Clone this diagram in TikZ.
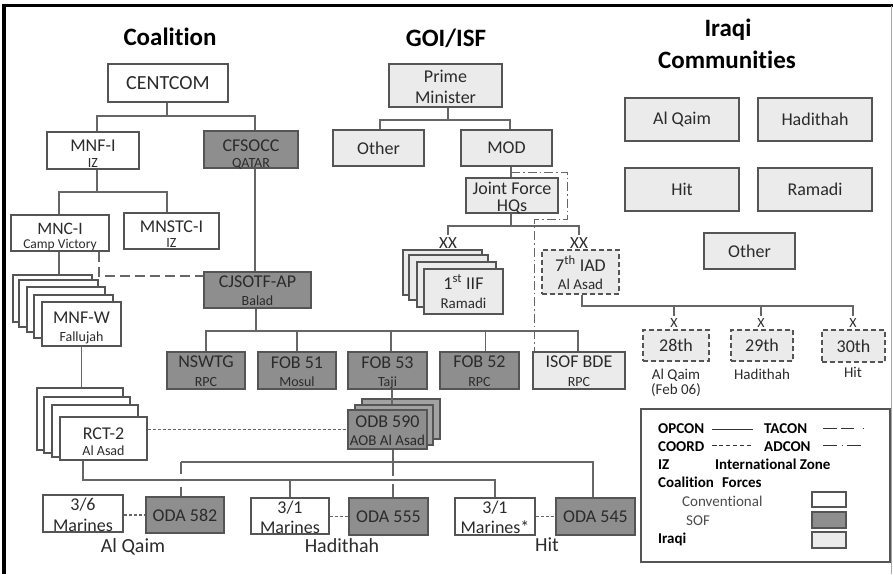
\documentclass[tikz,border=0pt]{standalone}
\usepackage{fontspec}
\setmainfont{Carlito}[Ligatures=NoCommon]
\definecolor{bdc}{HTML}{555555}
\definecolor{lnc}{HTML}{666666}
\definecolor{sofc}{HTML}{8E8E8E}
\definecolor{sofb}{HTML}{A2A2A2}
\definecolor{irqc}{HTML}{EBEBEB}
\definecolor{txc}{HTML}{2B2B2B}
\newcommand\Lg{\fontsize{18}{20}\selectfont}
\newcommand\Sm{\fontsize{14}{16}\selectfont}
\newcommand\Md{\fontsize{15}{17}\selectfont}
\newcommand\twoL[3]{\vbox{\baselineskip=#1pt\lineskiplimit=-50pt\lineskip=0pt\halign{\hfil##\hfil\cr#2\cr#3\cr}}}
\tikzset{
  bx/.style={draw=bdc, line width=1.25pt, inner sep=0pt, text=txc, font=\Lg},
  conv/.style={bx, fill=white},
  sof/.style={bx, fill=sofc},
  irq/.style={bx, fill=irqc},
  irqd/.style={irq, dash pattern=on 5pt off 3pt},
  wh/.style 2 args={minimum width=#1pt, minimum height=#2pt},
  th/.style={text height=#1pt, text depth=0pt},
  ln/.style={draw=lnc, line width=1.25pt},
  coord/.style={ln, dash pattern=on 3pt off 2pt},
  tacon/.style={ln, dash pattern=on 10pt off 5pt},
  adcon/.style={ln, dash pattern=on 9pt off 3pt on 1.5pt off 3pt},
  ttl/.style={font=\fontsize{25}{28}\selectfont\bfseries, text=black, inner sep=0pt, anchor=base},
  lbl/.style={font=\fontsize{20}{22}\selectfont, text=txc, inner sep=0pt, anchor=base},
  mlb/.style={font=\fontsize{15}{17}\selectfont, text=txc, inner sep=0pt, anchor=base},
  xxl/.style={font=\fontsize{17}{19}\selectfont, text=txc, inner sep=2pt, anchor=base},
  xl/.style={font=\fontsize{14}{16}\selectfont, text=txc, inner sep=2pt, anchor=base},
  lgb/.style={font=\fontsize{15}{17}\selectfont\bfseries, text=black, inner sep=0pt, anchor=base west},
  lgr/.style={font=\fontsize{15}{17}\selectfont, text=txc!85, inner sep=0pt, anchor=base west},
}
\begin{document}
\begin{tikzpicture}[x=1pt,y=-1pt]
\useasboundingbox (0,0) rectangle (893,574);
% frame
\coordinate (f1) at (4,574); \coordinate (f2) at (4,5.5); \coordinate (f3) at (893,5.5);
\draw[line width=3.5pt, black] (f1) -- (f2) -- (f3);
\coordinate (f4) at (891.5,5.5); \coordinate (f5) at (891.5,574);
\draw[black!35, line width=0.8pt] (f4) -- (f5);

% titles
\node[ttl] (tco) at (170,45) {Coalition};
\node[ttl] (tgo) at (446,46) {GOI/ISF};
\node[ttl] (tiq1) at (728,36) {Iraqi};
\node[ttl] (tiq2) at (727,68) {Communities};

% ---------------- Coalition
\node[conv, wh={120}{38}, font=\fontsize{20}{22}\selectfont] (cent) at (168,83) {CENTCOM};
\node[conv, wh={92}{37}, th=33] (mnfi) at (93,150.5) {\twoL{15.5}{\Lg MNF-I}{\Sm IZ}};
\node[sof, wh={94}{37}, th=35] (cfs) at (251,149.5) {\twoL{15.5}{\Lg CFSOCC}{\Sm QATAR}};
\node[conv, wh={98}{36}, th=31] (mnci) at (60,233) {\twoL{14}{\fontsize{17.5}{19}\selectfont MNC-I}{\fontsize{13.5}{15}\selectfont Camp Victory}};
\node[conv, wh={95}{36}, th=32] (mnstc) at (171.5,231) {\twoL{14.5}{\Lg MNSTC-I}{\Sm IZ}};

\node[conv, wh={79}{47}] (mnfwa) at (52.5,298.5) {};
\node[conv, wh={79}{47}] (mnfwb) at (58.5,303.5) {};
\node[conv, wh={78}{45}] (mnfwc) at (66,309.5) {};
\node[conv, wh={79}{43}] (mnfwd) at (73.5,316.5) {};
\node[conv, wh={79}{44}, th=34] (mnfw) at (81.5,324) {\twoL{18}{\Lg MNF-W}{\Sm Fallujah}};

\node[sof, wh={107}{36}, th=30] (cjs) at (257.5,290) {\twoL{18}{\Lg CJSOTF-AP}{\Sm Balad}};

\node[conv, wh={86}{62}] (rcta) at (80,419) {};
\node[conv, wh={86}{56}] (rctb) at (87,425) {};
\node[conv, wh={86}{52}] (rctc) at (95,431) {};
\node[conv, wh={87}{43}, th=33] (rct) at (103.5,438.5) {\twoL{15.5}{\Lg RCT-2}{\Sm Al Asad}};

\node[sof, wh={78}{37}, th=32] (nsw) at (206,370.5) {\twoL{19}{\Lg NSWTG}{\Sm RPC}};
\node[sof, wh={78}{37}, th=32] (fob51) at (297,370.5) {\twoL{18}{\Lg FOB 51}{\Sm Mosul}};
\node[sof, wh={79}{37}, th=32] (fob53) at (387.5,370.5) {\twoL{18}{\Lg FOB 53}{\Sm Taji}};
\node[sof, wh={79}{37}, th=32] (fob52) at (479.5,370.5) {\twoL{19}{\Lg FOB 52}{\Sm RPC}};
\node[irq, wh={92}{37}, th=31] (isof) at (579,370.5) {\twoL{19}{\Lg ISOF BDE}{\Sm RPC}};

\node[sof, fill=sofb, wh={78}{40}] (odbb) at (401,419) {};
\node[sof, fill=sofb, wh={78}{40}] (odba) at (394,425) {};
\coordinate (o1) at ([xshift=4.5pt]fob53.south);
\draw[ln] (o1) -- (o1 |- odba.north);
\node[sof, wh={79}{39}, th=31] (odb) at (387.5,429.5) {\twoL{18}{\Lg ODB 590}{\Md AOB Al Asad}};

\node[conv, wh={80}{37}, th=35] (m36) at (83,513.5) {\twoL{21}{\Lg 3/6}{\Lg Marines}};
\node[sof, wh={78}{36}] (oda582) at (185,515) {ODA 582};
\node[conv, wh={78}{36}, th=34] (m31a) at (290,516) {\twoL{20}{\Lg 3/1}{\Lg Marines}};
\node[sof, wh={79}{37}] (oda555) at (388.5,516.5) {ODA 555};
\node[conv, wh={80}{37}, th=34] (m31b) at (495,516.5) {\twoL{20}{\Lg 3/1}{\Lg Marines*}};
\node[sof, wh={79}{37}] (oda545) at (595.5,516.5) {ODA 545};

\node[lbl] (laq) at (133,552) {Al Qaim};
\node[lbl] (lha) at (342,552) {Hadithah};
\node[lbl] (lhi) at (547,551) {Hit};

% ---------------- GOI/ISF
\node[irq, wh={113}{43}, th=35] (pm) at (445.5,85.5) {\twoL{21}{\Lg Prime}{\Lg Minister}};
\node[irq, wh={91}{36}] (oth) at (378.5,148) {Other};
\node[irq, wh={91}{36}] (mod) at (506.5,148) {MOD};
\node[irq, wh={92}{35}, th=31] (jf) at (512,195.5) {\twoL{17}{\Lg Joint Force}{\Lg HQs}};

\node[irq, wh={79}{45}] (iifa) at (442.5,272.5) {};
\node[irq, wh={79}{45}] (iifb) at (448.5,277.5) {};
\node[irq, wh={79}{45}] (iifc) at (456.5,284.5) {};
\node[irq, wh={79}{45}, th=33] (iif) at (463.5,291.5) {\twoL{19}{\Lg 1\textsuperscript{st} IIF}{\Md Ramadi}};
\node[irqd, wh={77}{44}, th=34] (iad) at (580.5,272) {\twoL{18}{\Lg 7\textsuperscript{th} IAD}{\Md Al Asad}};
\node[xxl] (xx1) at (448,248) {XX};
\node[xxl] (xx2) at (579,248) {XX};

\node[xl] (x28) at (674,327) {X};
\node[xl] (x29) at (761,327) {X};
\node[xl] (x30) at (853,327) {X};
\node[irqd, wh={66}{31}] (d28) at (676,345.5) {28th};
\node[irqd, wh={62}{31}] (d29) at (762,345.5) {29th};
\node[irqd, wh={63}{32}] (d30) at (853.5,346) {30th};
\node[mlb] (l28) at (676,379) {Al Qaim};
\node[mlb] (l28b) at (676,394) {(Feb 06)};
\node[mlb] (l29) at (762,379) {Hadithah};
\node[mlb] (l30) at (853,377) {Hit};

% ---------------- Iraqi communities
\node[irq, wh={114}{43}] (caq) at (682,119.5) {Al Qaim};
\node[irq, wh={114}{43}] (cha) at (815,119.5) {Hadithah};
\node[irq, wh={114}{43}] (chi) at (682,189.5) {Hit};
\node[irq, wh={114}{43}] (cra) at (815,189.5) {Ramadi};
\node[irq, wh={91}{36}] (cot) at (749.5,251) {Other};

% ---------------- Legend
\node[draw=bdc, line width=1.25pt, fill=white, minimum width=249pt, minimum height=153pt, inner sep=0pt] (leg) at (765.5,485.5) {};
\node[lgb] (lo) at (658,433) {OPCON};
\node[lgb] (lt) at (764,433) {TACON};
\node[lgb] (lc) at (658,451) {COORD};
\node[lgb] (la) at (764,451) {ADCON};
\node[lgb] (liz) at (658,469) {IZ};
\node[lgb] (lizz) at (715,469) {International Zone};
\node[lgb] (lcf) at (658,487) {Coalition\hspace{8pt}Forces};
\node[lgr] (lcv) at (682,506) {Conventional};
\node[lgr] (lsof) at (686,525) {SOF};
\node[lgb] (liq) at (658,543) {Iraqi};
\node[conv, wh={34}{15}] (sw1) at (829,499.5) {};
\node[sof, wh={34}{16}] (sw2) at (829,520) {};
\node[irq, wh={34}{16}] (sw3) at (829,540) {};
\coordinate (lo1) at (712,429.5); \coordinate (lo2) at (753,429.5);
\draw[ln, draw=black!80] (lo1) -- (lo2);
\coordinate (lc1) at (712,445.5); \coordinate (lc2) at (753,445.5);
\draw[ln, draw=black!80, dash pattern=on 4.5pt off 2.4pt] (lc1) -- (lc2);
\coordinate (lt1) at (823,428.5); \coordinate (lt2) at (865,428.5);
\draw[ln, draw=black!80, dash pattern=on 13.5pt off 4.3pt on 13pt off 8.7pt on 1.5pt off 20pt] (lt1) -- (lt2);
\coordinate (la1) at (823,445.5); \coordinate (la2) at (862,445.5);
\draw[ln, draw=black!80, dash pattern=on 14pt off 4.5pt on 1.5pt off 4pt on 14pt off 20pt] (la1) -- (la2);

% ---------------- connectors: Coalition
\coordinate (jc) at (167,116);
\draw[ln] (jc |- cent.south) -- (jc);
\draw[ln] ([xshift=4pt]mnfi.north) |- (jc) -| ([xshift=4pt]cfs.north);
\coordinate (jm) at (97,192);
\draw[ln] (jm |- mnfi.south) -- (jm);
\draw[ln] ([xshift=-1pt]mnci.north) |- (jm) -| ([xshift=-4.5pt]mnstc.north);
\coordinate (m1) at ([xshift=-1pt]mnci.south);
\draw[ln] (m1) -- (m1 |- mnfwa.north);
\coordinate (t1) at ([xshift=39pt]mnci.south);
\coordinate (t2) at ([yshift=14pt]cjs.west);
\draw[tacon] (t1) |- (t2);
\coordinate (c1) at ([xshift=4pt]cfs.south);
\draw[ln] (c1) -- (c1 |- cjs.north);
\draw[ln] (mnfw.south) -- (mnfw.south |- rcta.north);
\coordinate (jf1) at (256,331);
\draw[ln] (jf1 |- cjs.south) -- (jf1);
\draw[ln] (nsw.north) |- (jf1) -| ([xshift=-1pt]isof.north);
\draw[ln] (fob51.north) -- (fob51.north |- jf1);
\coordinate (f53) at ([xshift=3.5pt]fob53.north);
\draw[ln] (f53) -- (f53 |- jf1);
\coordinate (f52) at ([xshift=6pt]fob52.north);
\draw[ln] (f52) -- (f52 |- jf1);
\draw[coord] (rct.east |- odb.west) -- (odb.west);
\coordinate (jr) at (83,480);
\draw[ln] (jr |- rct.south) -- (jr) -| (m31b.north);
\draw[ln] (m31a.north) -- (m31a.north |- jr);
\coordinate (js) at (393,462);
\draw[ln] (js |- odb.south) -- (js);
\coordinate (s1) at ([xshift=-4pt]oda582.north);
\draw[ln] (s1 |- js) -| ([xshift=-2.5pt]oda545.north);
\coordinate (cr1) at (s1 |- jr);
\draw[ln] (s1 |- js) -- ([yshift=6pt]cr1);
\draw[ln] ([yshift=-7pt]cr1) -- (s1);
\coordinate (s2) at ([xshift=4.5pt]oda555.north);
\coordinate (cr2) at (s2 |- jr);
\draw[ln] (js) -- ([yshift=4pt]cr2);
\draw[ln] ([yshift=-4pt]cr2) -- (s2);
\draw[coord] (m36.east |- oda582.west) -- (oda582.west);
\draw[coord] (m31a.east |- oda555.west) -- (oda555.west);
\draw[coord] (m31b.east |- oda545.west) -- (oda545.west);

% ---------------- connectors: GOI/ISF
\coordinate (jp) at (448,120);
\draw[ln] (jp |- pm.south) -- (jp);
\draw[ln] ([xshift=1.5pt]oth.north) |- (jp) -| ([xshift=3.5pt]mod.north);
\coordinate (mj) at ([xshift=4.5pt]mod.south);
\draw[ln] (mj) -- (mj |- jf.north);
\coordinate (jx) at (511,226);
\draw[ln] (jx |- jf.south) -- (jx);
\draw[ln] (xx1.north) |- (jx) -| (xx2.north);
\coordinate (a1) at ([yshift=-6pt]mj);
\coordinate (a2) at ([xshift=9pt,yshift=-6pt]jf.south east);
\coordinate (a3) at ([xshift=2pt]isof.north west);
\draw[adcon] (a1) -| (a2) -| (a3);
\coordinate (ji) at (582,306);
\coordinate (i1) at ([xshift=1.5pt]iad.south);
\draw[ln] (i1) |- (ji -| x30.north) -- (x30.north);
\draw[ln] (x28.north) -- (x28.north |- ji);
\draw[ln] (x29.north) -- (x29.north |- ji);
\end{tikzpicture}
\end{document}
